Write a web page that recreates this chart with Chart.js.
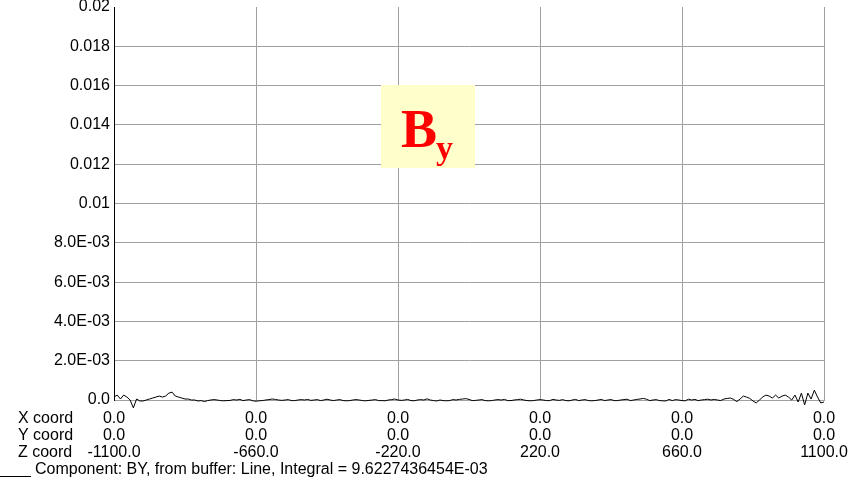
<!DOCTYPE html>
<html>
<head>
<meta charset="utf-8">
<script src="https://cdn.jsdelivr.net/npm/chart.js@4/dist/chart.umd.min.js"></script>
<style>
  html, body { margin: 0; padding: 0; background: #fff; }
  canvas { display: block; }
</style>
</head>
<body>
<canvas id="chart" width="866" height="484"></canvas>
<script>
// Sampling of the line along Z (mm): first position and spacing
const zStart = -1100;
const zStep = 10;

// BY component along the line, one value per sample (T)
const byValues = [
  1.5e-4, 2.5e-4, 5e-5, 2.5e-4, 1.5e-4, 0, -4e-4, 5e-5, -5e-5, -5e-5,
  0, 5e-5, 1e-4, 1.5e-4, 2e-4, 1.5e-4, 2e-4, 3.5e-4, 4e-4, 2e-4,
  1.5e-4, 1e-4, 5e-5, 5e-5, 0, 0, -5e-5, -3e-5, -8e-5, -3e-5,
  0, 2e-5, 0, -3e-5, -4e-5, -3e-5, -2e-5, 2e-5, 0, 3e-5,
  -3e-5, 0, 2e-5, -4e-5, -6e-5, -4e-5, -3e-5, 0, 2e-5, 5e-5,
  3e-5, 0, -2e-5, 0, 2e-5, -3e-5, -3e-5, 0, 2e-5, 0,
  3e-5, -2e-5, 0, 2e-5, -3e-5, 0, 4e-5, 0, -3e-5, 0,
  2e-5, -3e-5, -4e-5, -3e-5, 0, 2e-5, 0, -3e-5, -4e-5, -2e-5,
  0, 2e-5, -3e-5, -3e-5, -4e-5, 0, 2e-5, 5e-5, 0, -2e-5,
  0, 3e-5, -3e-5, -4e-5, 0, 2e-5, 0, 6e-5, 0, -3e-5,
  -5e-5, 0, -3e-5, -4e-5, -3e-5, 2e-5, 0, 3e-5, 5e-5, 7e-5,
  3e-5, -3e-5, -2e-5, 0, 2e-5, -3e-5, -4e-5, -3e-5, 0, 2e-5,
  0, 3e-5, -3e-5, -3e-5, 0, 2e-5, 4e-5, 0, -3e-5, -4e-5,
  -3e-5, 0, 2e-5, 0, -3e-5, -3e-5, 3e-5, 0, -2e-5, 2e-5,
  -3e-5, -4e-5, 0, 3e-5, -3e-5, 0, 2e-5, -3e-5, -4e-5, -3e-5,
  0, 3e-5, -3e-5, 0, 2e-5, -3e-5, -3e-5, 0, 2e-5, 4e-5,
  -3e-5, 0, 3e-5, 5e-5, 8e-5, 4e-5, -3e-5, 0, 2e-5, -3e-5,
  -4e-5, -5e-5, 3e-5, -3e-5, 2e-5, 0, -3e-5, -4e-5, 4e-5, 0,
  3e-5, -3e-5, 0, 2e-5, 4e-5, 0, 3e-5, 0, -3e-5, 5e-5,
  8e-5, 1e-4, 3e-5, -8e-5, 5e-5, 2e-4, 1.5e-4, 8e-5, -5e-5, -1.5e-4,
  0, 1.5e-4, 2.5e-4, 2e-4, 1e-4, 2.5e-4, 1e-4, 2e-4, 2.5e-4, 1.5e-4,
  0, 2.5e-4, -1e-4, 3.5e-4, -2.5e-4, 3.5e-4, 5e-5, 5e-4, 1.5e-4, -1.5e-4,
  -1e-4
];

// Horizontal axis: tick positions (Z) and the coordinate rows printed under each
const zTicks = [-1100, -660, -220, 220, 660, 1100];
const xCoordLabels = ['0.0', '0.0', '0.0', '0.0', '0.0', '0.0'];
const yCoordLabels = ['0.0', '0.0', '0.0', '0.0', '0.0', '0.0'];
const zCoordLabels = ['-1100.0', '-660.0', '-220.0', '220.0', '660.0', '1100.0'];
const rowTitles = ['X coord', 'Y coord', 'Z coord'];

// Vertical axis ticks and their printed labels
const yTicks = [0, 0.002, 0.004, 0.006, 0.008, 0.01, 0.012, 0.014, 0.016, 0.018, 0.02];
const yTickLabels = ['0.0', '2.0E-03', '4.0E-03', '6.0E-03', '8.0E-03', '0.01', '0.012', '0.014', '0.016', '0.018', '0.02'];

const legendText = 'Component: BY, from buffer: Line, Integral = 9.6227436454E-03';

const SANS = '"Liberation Sans", Arial, sans-serif';
const SERIF = '"Liberation Serif", "Times New Roman", serif';
const GRID = '#a0a0a0';
const LINE_H = 17;
const X_TICK_PAD = 10;

const points = byValues.map((v, i) => ({ x: zStart + i * zStep, y: v }));

// Row titles, legend line and the component badge
const overlay = {
  id: 'overlay',
  afterDraw(chart) {
    const ctx = chart.ctx;
    const xs = chart.scales.x;
    ctx.save();
    ctx.font = '16px ' + SANS;
    ctx.fillStyle = '#000';
    ctx.textAlign = 'left';
    ctx.textBaseline = 'middle';
    const firstRow = xs.top + X_TICK_PAD + LINE_H / 2;
    rowTitles.forEach((t, i) => ctx.fillText(t, 18, firstRow + i * LINE_H));

    // legend: line sample + description
    ctx.strokeStyle = '#000';
    ctx.lineWidth = 1;
    ctx.beginPath();
    ctx.moveTo(0, 476.5);
    ctx.lineTo(31, 476.5);
    ctx.stroke();
    ctx.fillText(legendText, 35, 470);

    // component badge
    ctx.fillStyle = '#FFFFCC';
    ctx.fillRect(381, 85, 94, 83);
    ctx.fillStyle = '#FF0000';
    ctx.textBaseline = 'alphabetic';
    ctx.font = 'bold 54px ' + SERIF;
    ctx.fillText('B', 401, 147);
    ctx.font = 'bold 34px ' + SERIF;
    ctx.fillText('y', 436, 159);
    ctx.restore();
  }
};

new Chart(document.getElementById('chart'), {
  type: 'line',
  data: {
    datasets: [{
      data: points,
      borderColor: '#000',
      borderWidth: 1,
      pointRadius: 0,
      tension: 0,
      fill: false,
      clip: false
    }]
  },
  options: {
    responsive: false,
    animation: false,
    layout: { padding: { top: 7, right: 42, left: 0, bottom: 0 } },
    plugins: { legend: { display: false }, tooltip: { enabled: false } },
    scales: {
      x: {
        type: 'linear',
        min: -1100,
        max: 1100,
        afterBuildTicks(s) { s.ticks = zTicks.map(v => ({ value: v })); },
        afterFit(s) { s.height = 84; s.paddingLeft = 0; s.paddingRight = 0; },
        grid: { color: GRID, lineWidth: 1, drawTicks: false },
        border: { color: GRID, width: 1 },
        ticks: {
          padding: X_TICK_PAD,
          maxRotation: 0,
          autoSkip: false,
          color: '#000',
          font: { family: SANS, size: 16, lineHeight: LINE_H / 16 },
          callback: (v, i) => [xCoordLabels[i], yCoordLabels[i], zCoordLabels[i]]
        }
      },
      y: {
        min: 0,
        max: 0.02,
        afterBuildTicks(s) { s.ticks = yTicks.map(v => ({ value: v })); },
        afterFit(s) { s.width = 114; s.paddingTop = 0; s.paddingBottom = 0; },
        grid: {
          color: c => (c.tick && c.tick.value === 0.02) ? 'rgba(0,0,0,0)' : GRID,
          lineWidth: 1,
          drawTicks: false
        },
        border: { color: '#000', width: 1 },
        ticks: {
          padding: 4,
          autoSkip: false,
          color: '#000',
          font: { family: SANS, size: 16 },
          callback: (v, i) => yTickLabels[i]
        }
      }
    }
  },
  plugins: [overlay]
});
</script>
</body>
</html>
